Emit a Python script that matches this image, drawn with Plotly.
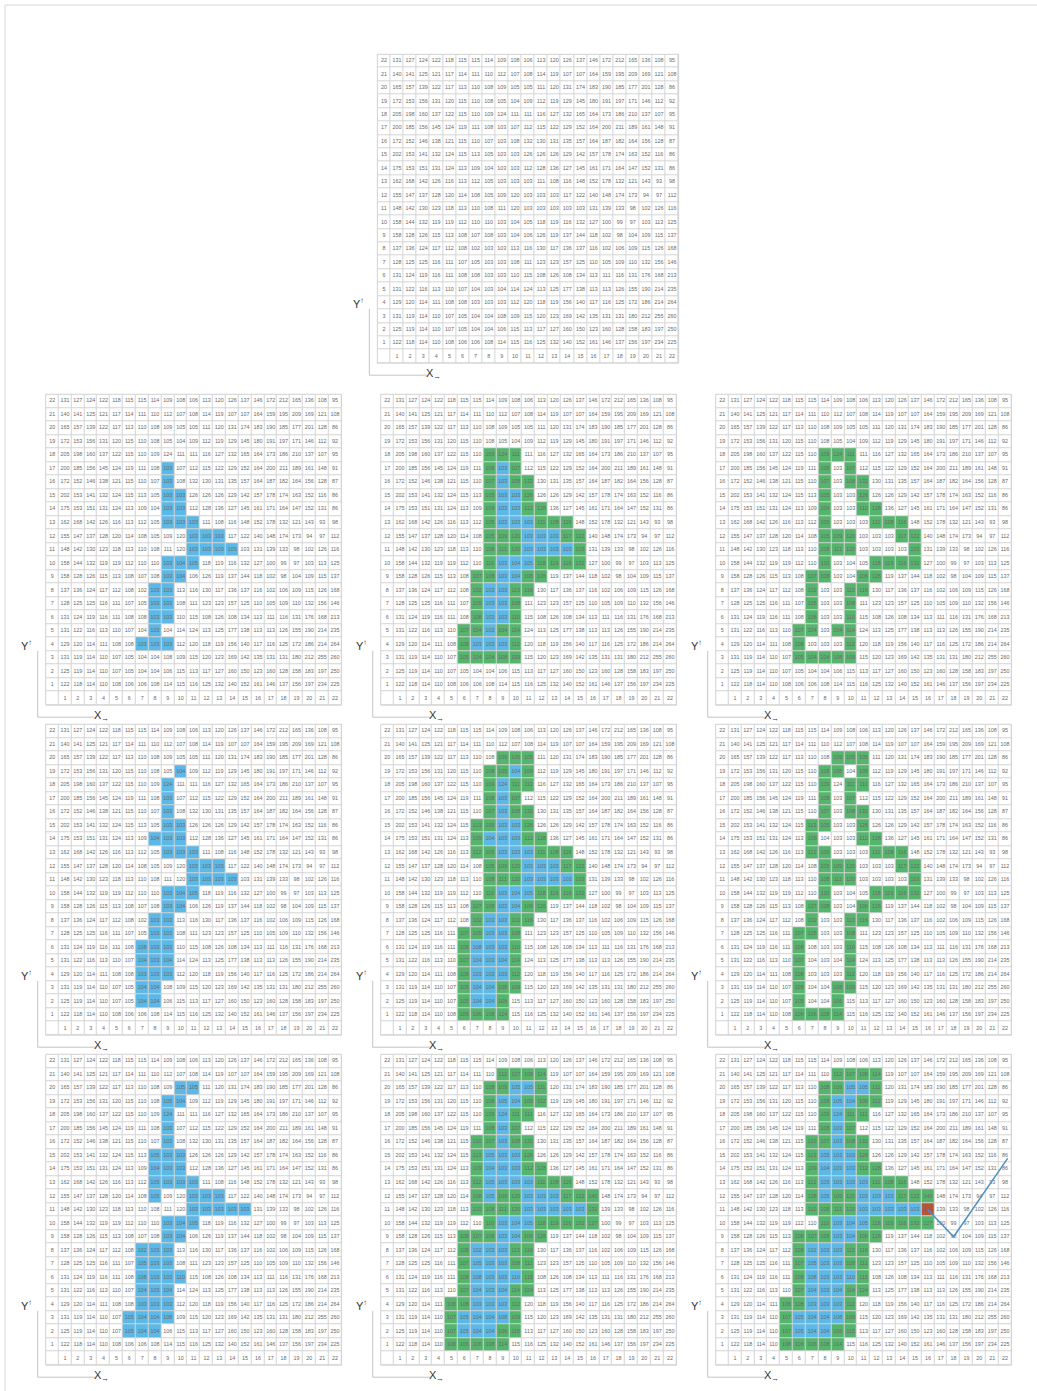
import plotly.graph_objects as go

# ---------------------------------------------------------------------------
# Data
# ---------------------------------------------------------------------------
N = 22

# Cell values, one list per grid row, from row 22 (top) down to row 1 (bottom);
# each list runs from column 1 to column 22.
row_values = {
    22: [131, 127, 124, 122, 118, 115, 115, 114, 109, 108, 106, 113, 120, 126, 137, 146, 172, 212, 165, 136, 108, 95],
    21: [140, 141, 125, 121, 117, 114, 111, 110, 112, 107, 108, 114, 119, 107, 107, 164, 159, 195, 209, 169, 121, 108],
    20: [165, 157, 139, 122, 117, 113, 110, 108, 109, 105, 105, 111, 120, 131, 174, 183, 190, 185, 177, 201, 128, 86],
    19: [172, 153, 156, 131, 120, 115, 110, 108, 105, 104, 109, 112, 119, 129, 145, 180, 191, 197, 171, 146, 112, 92],
    18: [205, 198, 160, 137, 122, 115, 110, 109, 124, 111, 111, 116, 127, 132, 165, 164, 173, 186, 210, 137, 107, 95],
    17: [200, 185, 156, 145, 124, 119, 111, 108, 103, 107, 112, 115, 122, 129, 152, 164, 200, 211, 189, 161, 148, 91],
    16: [172, 152, 146, 138, 121, 115, 110, 107, 103, 108, 132, 130, 131, 135, 157, 164, 187, 182, 164, 156, 128, 87],
    15: [202, 153, 141, 132, 124, 115, 113, 105, 103, 103, 126, 126, 126, 129, 142, 157, 178, 174, 163, 152, 116, 86],
    14: [175, 153, 151, 131, 124, 113, 109, 104, 103, 103, 112, 128, 136, 127, 145, 161, 171, 164, 147, 152, 131, 86],
    13: [162, 168, 142, 126, 116, 113, 112, 105, 103, 103, 103, 111, 108, 116, 148, 152, 178, 132, 121, 143, 93, 98],
    12: [155, 147, 137, 128, 120, 114, 108, 105, 109, 120, 103, 103, 103, 117, 122, 140, 148, 174, 173, 94, 97, 112],
    11: [148, 142, 130, 123, 118, 113, 110, 108, 111, 120, 103, 103, 103, 103, 103, 131, 139, 133, 98, 102, 126, 116],
    10: [158, 144, 132, 119, 119, 112, 110, 110, 103, 104, 105, 118, 119, 116, 132, 127, 100, 99, 97, 103, 113, 125],
    9:  [158, 128, 126, 115, 113, 108, 107, 108, 103, 104, 106, 126, 119, 137, 144, 118, 102, 98, 104, 109, 115, 137],
    8:  [137, 136, 124, 117, 112, 108, 102, 103, 103, 113, 116, 130, 117, 136, 137, 116, 102, 106, 109, 115, 126, 168],
    7:  [128, 125, 125, 116, 111, 107, 105, 103, 103, 108, 111, 123, 123, 157, 125, 110, 105, 109, 110, 132, 156, 146],
    6:  [131, 124, 119, 116, 111, 108, 108, 103, 103, 110, 115, 108, 126, 108, 134, 113, 111, 116, 131, 176, 168, 213],
    5:  [131, 122, 116, 113, 110, 107, 104, 103, 104, 114, 124, 113, 125, 177, 138, 113, 113, 126, 155, 190, 214, 235],
    4:  [129, 120, 114, 111, 108, 108, 103, 103, 103, 112, 120, 118, 119, 156, 140, 117, 116, 125, 172, 186, 214, 264],
    3:  [131, 119, 114, 110, 107, 105, 104, 104, 108, 109, 115, 120, 123, 169, 142, 135, 131, 131, 180, 212, 255, 260],
    2:  [125, 119, 114, 110, 107, 105, 104, 104, 106, 115, 113, 117, 127, 160, 150, 123, 160, 128, 158, 183, 197, 250],
    1:  [122, 118, 114, 110, 108, 106, 106, 108, 114, 115, 116, 125, 132, 140, 152, 161, 146, 137, 156, 197, 234, 225],
}

column_labels = [str(c) for c in range(1, N + 1)]
row_labels = [str(r) for r in range(1, N + 1)]

# Region (blue) at each growth stage: grid row -> member columns
region_stage1 = {
    17: [9], 16: [9], 15: [9, 10], 14: [9, 10], 13: [9, 10, 11],
    12: [11, 12, 13], 11: [11, 12, 13, 14], 10: [9, 10, 11], 9: [9, 10],
    8: [8, 9], 7: [8, 9], 6: [8, 9], 5: [8], 4: [7, 8, 9],
}
region_stage2 = {
    19: [10], 18: [9], 17: [9], 16: [9], 15: [9, 10], 14: [8, 9, 10],
    13: [9, 10, 11], 12: [11, 12, 13], 11: [11, 12, 13, 14], 10: [9, 10, 11],
    9: [9, 10], 8: [8, 9], 7: [8, 9], 6: [7, 8, 9], 5: [7, 8, 9],
    4: [7, 8, 9], 3: [7, 8], 2: [7, 8],
}
region_stage3 = {
    20: [10, 11], 19: [9, 10], 18: [9], 17: [9], 16: [9], 15: [8, 9, 10],
    14: [8, 9, 10], 13: [8, 9, 10, 11], 12: [8, 11, 12, 13],
    11: [11, 12, 13, 14, 15], 10: [9, 10, 11], 9: [9, 10], 8: [7, 8, 9],
    7: [7, 8, 9], 6: [7, 8, 9, 10], 5: [7, 8, 9], 4: [7, 8, 9],
    3: [6, 7, 8, 9], 2: [6, 7, 8],
}

# Seed cell (row, column) and the traced path leaving it
seed_cell = (11, 16)
path_cols = [16, 18, 22.2]
path_rows = [11, 9, 14.8]

# ---------------------------------------------------------------------------
# Styling
# ---------------------------------------------------------------------------
W, H = 1037, 1391
WHITE, BLUE, GREEN, SEED = "#ffffff", "#5cb8e6", "#55b56d", "#b8543a"
GRID = "#d4d4d4"
TEXT = "#6a6a6a"
FONT = "Liberation Sans, Arial, sans-serif"


def cells(region):
    return {(r, c) for r, cols in region.items() for c in cols}


def ring(region):
    """Cells touching the region (8-neighbourhood) that are not in it."""
    inside = cells(region)
    out = set()
    for r, c in inside:
        for dr in (-1, 0, 1):
            for dc in (-1, 0, 1):
                rr, cc = r + dr, c + dc
                if 1 <= rr <= N and 1 <= cc <= N and (rr, cc) not in inside:
                    out.add((rr, cc))
    return out


def codes(region=None, show_inside=True, show_ring=False, seed=None):
    """Colour code per cell: 0 white, 1 blue, 2 green, 3 seed."""
    z = [[0] * (N + 1) for _ in range(N + 1)]
    if region:
        if show_inside:
            for r, c in cells(region):
                z[r][c] = 1
        if show_ring:
            for r, c in ring(region):
                z[r][c] = 2
    if seed:
        z[seed[0]][seed[1]] = 3
    return z


# Panel layout in pixels: (first column centre, column pitch, row-22 centre, row pitch)
panels = [
    dict(cx=397, cw=13.1, ry=61, rh=13.43, z=codes()),
    dict(cx=65, cw=12.86, ry=401, rh=13.52, z=codes(region_stage1)),
    dict(cx=400, cw=12.86, ry=401, rh=13.52, z=codes(region_stage1, True, True)),
    dict(cx=735, cw=12.86, ry=401, rh=13.52, z=codes(region_stage1, False, True)),
    dict(cx=65, cw=12.86, ry=731, rh=13.52, z=codes(region_stage2)),
    dict(cx=400, cw=12.86, ry=731, rh=13.52, z=codes(region_stage2, True, True)),
    dict(cx=735, cw=12.86, ry=731, rh=13.52, z=codes(region_stage2, False, True)),
    dict(cx=65, cw=12.86, ry=1061, rh=13.52, z=codes(region_stage3)),
    dict(cx=400, cw=12.86, ry=1061, rh=13.52, z=codes(region_stage3, True, True)),
    dict(cx=735, cw=12.86, ry=1061, rh=13.52,
         z=codes(region_stage3, True, True, seed=seed_cell), path=True),
]

edges = [i - 0.5 for i in range(N + 2)]
scale = [[0, WHITE], [1 / 3, BLUE], [2 / 3, GREEN], [1, SEED]]

# text for every cell, plus the row and column labels
tx, ty, tt = [], [], []
for r in range(1, N + 1):
    for c in range(1, N + 1):
        tx.append(c)
        ty.append(r)
        tt.append(str(row_values[r][c - 1]))
for i, lab in enumerate(row_labels, start=1):
    tx.append(0)
    ty.append(i)
    tt.append(lab)
for i, lab in enumerate(column_labels, start=1):
    tx.append(i)
    ty.append(0)
    tt.append(lab)

fig = go.Figure()
layout = dict(
    width=W, height=H, autosize=False,
    margin=dict(l=0, r=0, t=0, b=0, pad=0),
    paper_bgcolor="white", plot_bgcolor=GRID,
    showlegend=False, font=dict(family=FONT),
)
shapes, annotations = [], []

for k, p in enumerate(panels, start=1):
    left = p["cx"] - 1.5 * p["cw"]
    right = p["cx"] + 21.5 * p["cw"]
    top = p["ry"] - 0.5 * p["rh"]
    bottom = p["ry"] + 22.5 * p["rh"]
    xa = "x" if k == 1 else f"x{k}"
    ya = "y" if k == 1 else f"y{k}"
    layout["xaxis" if k == 1 else f"xaxis{k}"] = dict(
        domain=[left / W, right / W], range=[-0.5, N + 0.5], visible=False,
        fixedrange=True, anchor=ya)
    layout["yaxis" if k == 1 else f"yaxis{k}"] = dict(
        domain=[1 - bottom / H, 1 - top / H], range=[-0.5, N + 0.5], visible=False,
        fixedrange=True, anchor=xa)

    fig.add_trace(go.Heatmap(
        z=p["z"], x=edges, y=edges, colorscale=scale, zmin=0, zmax=3,
        showscale=False, xgap=1, ygap=1, hoverinfo="skip", xaxis=xa, yaxis=ya))
    fig.add_trace(go.Scatter(
        x=tx, y=ty, text=tt, mode="text", textposition="middle center",
        textfont=dict(size=5.4, color=TEXT, family=FONT),
        hoverinfo="skip", xaxis=xa, yaxis=ya))
    if p.get("path"):
        fig.add_trace(go.Scatter(
            x=path_cols, y=path_rows, mode="lines",
            line=dict(color="#4f90c0", width=1.5),
            hoverinfo="skip", xaxis=xa, yaxis=ya, cliponaxis=False))

    # table outline
    shapes.append(dict(type="rect", xref="paper", yref="paper",
                       x0=left / W, x1=right / W, y0=1 - bottom / H, y1=1 - top / H,
                       line=dict(color=GRID, width=1)))

    # axis indicator: Y up the left side, X along the bottom
    vx = left - 8
    ylab_y = p["ry"] + 21 * p["rh"] - 40
    base_y = bottom + 12
    shapes.append(dict(type="line", xref="paper", yref="paper",
                       x0=vx / W, x1=vx / W, y0=1 - (ylab_y + 6) / H, y1=1 - base_y / H,
                       line=dict(color="#c4c4c4", width=1)))
    shapes.append(dict(type="line", xref="paper", yref="paper",
                       x0=vx / W, x1=(left + 50) / W, y0=1 - base_y / H, y1=1 - base_y / H,
                       line=dict(color="#c4c4c4", width=1)))
    annotations.append(dict(xref="paper", yref="paper", x=(left - 19) / W, y=1 - ylab_y / H,
                            text="Y<sup>↑</sup>", showarrow=False,
                            font=dict(size=11, color="#333333", family=FONT),
                            xanchor="center", yanchor="middle"))
    annotations.append(dict(xref="paper", yref="paper", x=(left + 56) / W, y=1 - (bottom + 11) / H,
                            text="X<sub>→</sub>", showarrow=False,
                            font=dict(size=11, color="#333333", family=FONT),
                            xanchor="center", yanchor="middle"))

# thin page frame
shapes.append(dict(type="rect", xref="paper", yref="paper",
                   x0=5 / W, x1=1.02, y0=-0.02, y1=1 - 5 / H,
                   line=dict(color="#d8d8d8", width=1)))

layout["shapes"] = shapes
layout["annotations"] = annotations
fig.update_layout(**layout)
fig.write_html("out.html")
